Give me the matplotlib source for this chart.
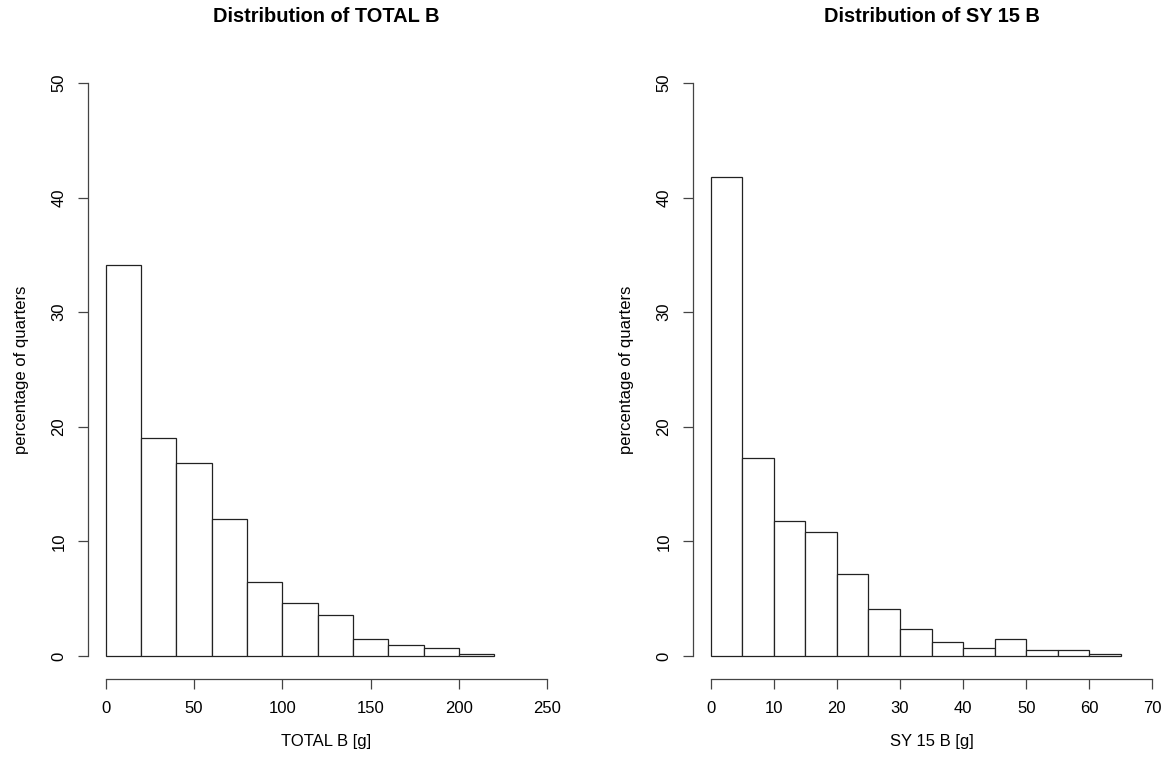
"""Histograms of TOTAL B and SY 15 B (percentage of quarters)."""

import numpy
from matplotlib import pyplot

# Bin edges and bar heights (percentage of quarters).
total_edges = [0, 20, 40, 60, 80, 100, 120, 140, 160, 180, 200, 220]
total_pct = [34.1, 19.0, 16.8, 12.0, 6.5, 4.6, 3.6, 1.45, 0.96, 0.70, 0.2]

sy_edges = [0, 5, 10, 15, 20, 25, 30, 35, 40, 45, 50, 55, 60, 65]
sy_pct = [41.8, 17.3, 11.8, 10.8, 7.2, 4.07, 2.4, 1.22, 0.70, 1.45,
          0.49, 0.49, 0.2]

panels = [
    dict(edges=total_edges, pct=total_pct, xmax=250, xstep=50,
         title='Distribution of TOTAL B', xlabel='TOTAL B [g]',
         left=88),
    dict(edges=sy_edges, pct=sy_pct, xmax=70, xstep=10,
         title='Distribution of SY 15 B', xlabel='SY 15 B [g]',
         left=693),
]

pyplot.rc('font', family=['Liberation Sans', 'DejaVu Sans'], size=12)

W, H = 1170, 766
fig = pyplot.figure(figsize=(W / 100, H / 100), dpi=100)

# R-style plot region: usr = lim +/- 4 %.
top_px, bottom_px = 60, 679
width_px = 477

for p in panels:
    ax = fig.add_axes([p['left'] / W, 1 - bottom_px / H,
                       width_px / W, (bottom_px - top_px) / H])
    edges = numpy.array(p['edges'], dtype=float)
    ax.bar(edges[:-1], p['pct'], width=numpy.diff(edges), align='edge',
           facecolor='white', edgecolor='#222222', linewidth=0.9)
    pad = 0.04 * p['xmax']
    ax.set_xlim(-pad, p['xmax'] + pad)
    ax.set_ylim(-2, 52)
    ax.set_xticks(numpy.arange(0, p['xmax'] + 1, p['xstep']))
    ax.set_yticks([0, 10, 20, 30, 40, 50])
    for side in ('top', 'right'):
        ax.spines[side].set_visible(False)
    ax.spines['bottom'].set_bounds(0, p['xmax'])
    ax.spines['left'].set_bounds(0, 50)
    for side in ('bottom', 'left'):
        ax.spines[side].set_color('#444444')
        ax.spines[side].set_linewidth(0.9)
    ax.tick_params(length=7.5, width=0.9, color='#444444', pad=8)
    for lab in ax.get_yticklabels():
        lab.set_rotation(90)
        lab.set_va('center')
    ax.set_title(p['title'], fontweight='bold', pad=27)
    ax.set_xlabel(p['xlabel'], labelpad=13)
    ax.set_ylabel('percentage of quarters', labelpad=16)

fig.savefig('out.png', dpi=100)
